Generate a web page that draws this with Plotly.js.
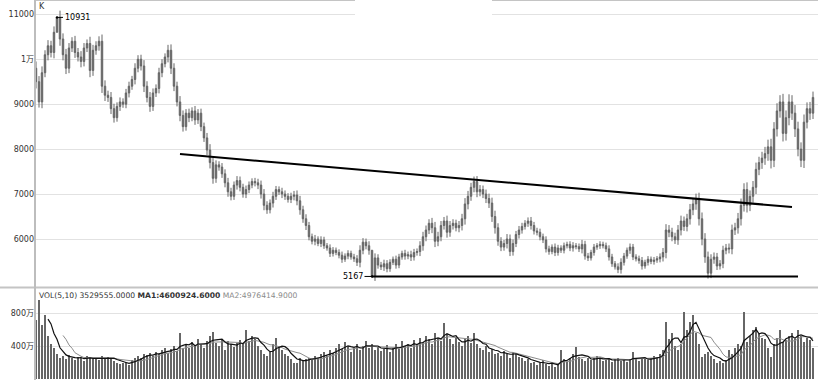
<!DOCTYPE html>
<html>
<head>
<meta charset="utf-8">
<script src="https://cdn.plot.ly/plotly-3.0.1.min.js"></script>
<style>html,body{margin:0;padding:0;background:#fff;}#chart{width:818px;height:380px;}</style>
</head>
<body>
<div id="chart"></div>
<script>
// Daily closing prices
const closes = [
9500,9050,9700,10100,10300,10150,10600,10931,10450,10100,
9800,10250,10400,10150,10050,9950,10250,10350,9750,10200,
10300,10400,9400,9200,9150,8900,8700,8950,9050,9000,
9250,9400,9550,9800,10000,9850,9400,9150,8950,9250,
9350,9700,9900,10050,10200,9800,9400,9050,8750,8500,
8800,8700,8850,8650,8800,8500,8250,7980,7700,7350,
7650,7600,7450,7250,7050,6950,7200,7300,7150,7000,
7100,7200,7280,7250,7200,7000,6750,6650,6800,6950,
7100,7050,7000,6950,6880,6950,6980,6850,6650,6450,
6300,6050,5950,6000,5900,5980,5850,5800,5680,5750,
5700,5640,5550,5620,5680,5600,5560,5480,5750,5930,
5850,5750,5167,5580,5420,5380,5450,5340,5480,5550,
5420,5600,5680,5620,5650,5600,5700,5720,5850,6050,
6200,6350,6250,5950,6050,6300,6400,6150,6300,6350,
6250,6300,6450,6780,6950,7150,7280,7050,7100,7000,
6900,6800,6500,6250,5950,5820,5900,6000,5720,5900,
6100,6200,6280,6350,6400,6300,6180,6150,6050,5980,
5780,5720,5820,5700,5800,5750,5850,5880,5800,5850,
5830,5780,5880,5620,5580,5700,5820,5850,5880,5850,
5780,5600,5450,5380,5320,5480,5620,5750,5820,5600,
5560,5520,5400,5480,5550,5500,5530,5560,5600,5700,
6200,6150,6050,5980,6200,6400,6280,6450,6650,6780,
6880,6450,6000,5600,5240,5550,5600,5400,5450,5750,
5800,5780,6200,6250,6450,6750,7100,6750,6950,7150,
7550,7700,7800,7900,8050,7750,8450,8850,9050,8350,
8700,9050,8800,8450,8000,7750,8600,8900,8800,9150
];
// Intraday spread beyond the candle body (price points, read from the strokes)
const wicks = [
300,250,280,200,250,220,260,0,300,250,
260,220,180,240,200,260,220,180,300,240,
200,220,300,260,200,240,220,180,200,160,
180,200,160,220,180,200,260,220,240,200,
180,220,200,160,240,260,220,200,260,220,
180,200,160,220,180,200,180,220,260,240,
200,160,180,200,220,180,160,200,180,160,
180,160,140,160,180,200,220,180,160,200,
160,140,180,160,140,160,180,200,220,180,
200,160,140,180,120,160,140,120,160,140,
120,140,160,120,140,120,140,160,220,180,
160,200,0,200,160,140,180,160,140,120,
160,140,120,160,140,180,160,140,200,220,
200,180,240,260,220,200,180,240,200,180,
160,200,220,260,240,200,220,240,200,180,
200,220,240,260,200,180,160,220,200,180,
160,180,160,140,160,180,160,140,160,140,
160,140,120,160,140,120,140,120,140,160,
120,140,200,160,140,120,140,120,140,120,
140,160,140,120,160,180,140,120,160,140,
120,140,160,120,140,120,140,120,160,200,
260,220,200,180,220,240,200,220,260,240,
260,300,280,260,240,220,200,180,160,200,
180,200,240,220,260,300,280,320,260,280,
300,260,280,300,320,360,300,340,300,360,
320,340,300,360,320,300,340,280,300,260
];
// Daily volume, in 万 (10,000 shares)
const volumes = [
720,960,650,780,520,430,380,300,260,280,
240,290,250,230,270,260,220,280,250,240,
260,230,280,250,270,240,220,200,180,190,
210,170,230,250,280,260,300,290,320,280,
330,300,350,380,310,360,400,340,560,380,
420,370,450,400,480,420,380,460,520,570,
440,400,480,350,460,420,390,440,470,430,
600,460,520,480,400,350,300,280,330,420,
500,390,350,300,280,240,200,190,260,220,
240,260,230,280,250,300,330,280,350,310,
380,420,360,450,400,330,380,420,350,400,
460,380,420,350,390,340,360,410,330,370,
420,360,460,400,430,380,470,410,500,450,
520,480,430,560,500,460,680,540,480,420,
500,450,400,480,520,440,560,420,380,350,
400,330,360,300,320,280,340,300,260,330,
300,270,250,220,240,200,210,170,190,230,
180,160,200,150,170,350,240,210,260,300,
390,270,240,220,260,230,250,280,240,220,
230,260,210,240,250,220,230,210,240,330,
250,220,240,260,230,250,280,260,300,350,
690,480,560,400,350,420,810,600,690,775,
560,420,270,300,330,280,240,200,220,190,
230,350,300,380,430,400,810,450,520,600,
630,540,500,480,380,270,420,500,595,450,
470,520,555,480,595,520,450,500,470,375
];
const priceTicks = [6000,7000,8000,9000,10000,11000];
const priceTickText = ['6000','7000','8000','9000','1万','11000'];
const volTicks = [400,800];
const volTickText = ['400万','800万'];
const peakValue = 10931, lowValue = 5167;
const volLabel = 'VOL(5,10) 3529555.0000 <b>MA1:4600924.6000</b> <span style="color:#8a8a8a">MA2:4976414.9000</span>';

const idx = closes.map((_, i) => i);
const opens = closes.map((c, i) => i === 0 ? closes[0] + wicks[0] : closes[i - 1]);
const highs = closes.map((c, i) => Math.max(c, opens[i]) + wicks[i] / 2);
const lows = closes.map((c, i) => Math.min(c, opens[i]) - wicks[i] / 2);
function ma(arr, n) {
  return arr.map((_, i) => {
    if (i < n - 1) return null;
    let s = 0; for (let k = i - n + 1; k <= i; k++) s += arr[k];
    return s / n;
  });
}
const ma5 = ma(volumes, 5), ma10 = ma(volumes, 10);
const peakIdx = closes.indexOf(peakValue), lowIdx = closes.indexOf(lowValue);

const F = 'DejaVu Sans, Noto Sans CJK SC, sans-serif';
const barCol = '#666666';
const traces = [
  {type:'candlestick', x:idx, open:opens, high:highs, low:lows, close:closes, whiskerwidth:0,
   increasing:{line:{color:barCol, width:1}, fillcolor:barCol},
   decreasing:{line:{color:barCol, width:1}, fillcolor:barCol},
   xaxis:'x', yaxis:'y', hoverinfo:'skip'},
  {type:'bar', x:idx, y:volumes, width:0.72, marker:{color:barCol, line:{width:0}}, xaxis:'x2', yaxis:'y2', hoverinfo:'skip'},
  {type:'scatter', mode:'lines', x:idx, y:ma10, line:{color:'#8c8c8c', width:1}, xaxis:'x2', yaxis:'y2'},
  {type:'scatter', mode:'lines', x:idx, y:ma5, line:{color:'#111', width:1.2}, xaxis:'x2', yaxis:'y2'}
];
const xr = [-0.333, 260.667];
const grid = '#e2e2e2';
const layout = {
  width:818, height:380, margin:{l:35, r:0, t:0, b:0},
  paper_bgcolor:'#fff', plot_bgcolor:'#fff', showlegend:false, bargap:0,
  font:{family:F, size:8, color:'#333'},
  xaxis:{domain:[0,1], range:xr, showgrid:false, zeroline:false, showticklabels:false, anchor:'y', rangeslider:{visible:false}},
  xaxis2:{domain:[0,1], range:xr, showgrid:false, zeroline:false, showticklabels:false, anchor:'y2'},
  yaxis:{domain:[93/380,1], range:[4932,11318], tickvals:priceTicks, ticktext:priceTickText, gridcolor:grid, gridwidth:1, zeroline:false, ticks:'', tickfont:{family:F,size:8,color:'#333'}, anchor:'x'},
  yaxis2:{domain:[1/380,92/380], range:[0,1103], tickvals:volTicks, ticktext:volTickText, gridcolor:grid, gridwidth:1, zeroline:false, ticks:'', tickfont:{family:F,size:8,color:'#333'}, anchor:'x2'},
  shapes:[
    {type:'line', xref:'paper', yref:'paper', x0:0, x1:1, y0:1, y1:1, line:{color:'#c4c4c4', width:2}},
    {type:'line', xref:'paper', yref:'paper', x0:-35/783, x1:1, y0:92.5/380, y1:92.5/380, line:{color:'#c4c4c4', width:2}},
    {type:'line', xref:'paper', yref:'paper', x0:0, x1:0, y0:0, y1:1, line:{color:'#bdbdbd', width:2}},
    {type:'rect', xref:'paper', yref:'paper', x0:320/783, x1:457/783, y0:364/380, y1:1.01, fillcolor:'#fff', line:{width:0}, layer:'above'},
    {type:'line', xref:'x', yref:'y', x0:48, y0:7889, x1:252, y1:6711, line:{color:'#000', width:2}},
    {type:'line', xref:'x', yref:'y', x0:lowIdx, y0:lowValue, x1:254, y1:lowValue, line:{color:'#000', width:2}}
  ],
  annotations:[
    {xref:'paper', yref:'paper', x:0.003, y:1, xanchor:'left', yanchor:'top', text:'K', showarrow:false, font:{family:F,size:8,color:'#333'}},
    {xref:'x', yref:'y', x:peakIdx, y:peakValue, text:'10931', showarrow:true, ax:20, ay:0, arrowhead:6, arrowsize:0.6, arrowwidth:1, arrowcolor:'#000', font:{family:F,size:8,color:'#000'}},
    {xref:'x', yref:'y', x:lowIdx, y:lowValue, text:'5167', showarrow:true, ax:-19, ay:0, arrowhead:6, arrowsize:0.6, arrowwidth:1, arrowcolor:'#000', font:{family:F,size:8,color:'#000'}},
    {xref:'paper', yref:'paper', x:0.002, y:91/380, xanchor:'left', yanchor:'top', text:volLabel, showarrow:false, font:{family:F,size:7.6,color:'#333'}}
  ]
};
Plotly.newPlot('chart', traces, layout, {displayModeBar:false, staticPlot:true});
</script>
</body>
</html>
